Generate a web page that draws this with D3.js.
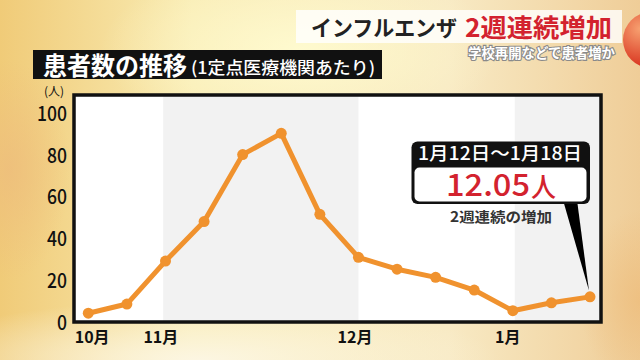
<!DOCTYPE html>
<html><head><meta charset="utf-8">
<script src="https://cdn.jsdelivr.net/npm/d3@7"></script>
<style>
html,body{margin:0;padding:0;overflow:hidden;background:#f7e9b8}
svg{display:block}
text{font-family:"Noto Sans CJK JP","Noto Sans",sans-serif}
</style></head><body>
<svg id="c" width="640" height="360"></svg>
<script>
// ---- data ----
const values = [4.2, 8.6, 29.2, 48.1, 80.2, 90.4, 51.6, 31.0, 25.3, 21.4, 15.3, 5.4, 9.2, 12.05];
const monthLabels = ["10月","11月","12月","1月"];
const monthLabelPos = [0.1, 1.88, 6.91, 10.87];
const monthBounds = [-0.37, 1.94, 7.0, 11.05, 13.3];
const yTicks = [0,20,40,60,80,100];
const titleBlack = "インフルエンザ";
const titleRed = "2週連続増加";
const subtitle = "学校再開などで患者増か";
const chartTitle = "患者数の推移";
const chartTitleSub = "(1定点医療機関あたり)";
const unitLabel = "(人)";
const calloutPeriod = "1月12日～1月18日";
const calloutNumber = "12.05";
const calloutUnit = "人";
const calloutNote = "2週連続の増加";

const svg = d3.select("#c");
const defs = svg.append("defs");

// background
const lg = defs.append("linearGradient").attr("id","bg").attr("x1",0).attr("y1",0).attr("x2",1).attr("y2",0);
lg.append("stop").attr("offset",0).attr("stop-color","#f0cb78");
lg.append("stop").attr("offset",0.3).attr("stop-color","#f9ecb4");
lg.append("stop").attr("offset",0.7).attr("stop-color","#f8eac4");
lg.append("stop").attr("offset",1).attr("stop-color","#efcd98");
svg.append("rect").attr("width",640).attr("height",360).attr("fill","url(#bg)");
const rg = defs.append("radialGradient").attr("id","glow").attr("cx",0.5).attr("cy",0.5).attr("r",0.5);
rg.append("stop").attr("offset",0).attr("stop-color","#fffbd0").attr("stop-opacity",0.95);
rg.append("stop").attr("offset",1).attr("stop-color","#fffbd0").attr("stop-opacity",0);
svg.append("ellipse").attr("cx",300).attr("cy",50).attr("rx",200).attr("ry",90).attr("fill","url(#glow)");
const rg2 = defs.append("radialGradient").attr("id","glow2").attr("cx",0.5).attr("cy",0.5).attr("r",0.5);
rg2.append("stop").attr("offset",0).attr("stop-color","#fcf6e2").attr("stop-opacity",1);
rg2.append("stop").attr("offset",1).attr("stop-color","#fcf6e2").attr("stop-opacity",0);
svg.append("ellipse").attr("cx",200).attr("cy",360).attr("rx",300).attr("ry",60).attr("fill","url(#glow2)");
const rg3 = defs.append("radialGradient").attr("id","glow3").attr("cx",0.5).attr("cy",0.5).attr("r",0.5);
rg3.append("stop").attr("offset",0).attr("stop-color","#eebd7c").attr("stop-opacity",0.8);
rg3.append("stop").attr("offset",1).attr("stop-color","#eebd7c").attr("stop-opacity",0);
svg.append("ellipse").attr("cx",10).attr("cy",170).attr("rx",60).attr("ry",110).attr("fill","url(#glow3)");
svg.append("ellipse").attr("cx",640).attr("cy",300).attr("rx",60).attr("ry",90).attr("fill","url(#glow3)");

// red ball top right
const ball = defs.append("radialGradient").attr("id","ball").attr("cx",0.3).attr("cy",0.3).attr("r",0.7);
ball.append("stop").attr("offset",0).attr("stop-color","#f7a070");
ball.append("stop").attr("offset",1).attr("stop-color","#d8321e");
svg.append("circle").attr("cx",651).attr("cy",40).attr("r",28).attr("fill","url(#ball)");

// title box
svg.append("rect").attr("x",296).attr("y",10).attr("width",326).attr("height",33).attr("fill","#ffffff").attr("opacity",0.8);
svg.append("text").attr("x",311).attr("y",36).attr("font-size",22).attr("font-weight",700).attr("fill","#222")
  .attr("textLength",146).attr("lengthAdjust","spacingAndGlyphs").text(titleBlack);
svg.append("text").attr("x",465).attr("y",37).attr("font-size",25).attr("font-weight",700).attr("fill","#d3222e")
  .attr("textLength",147).attr("lengthAdjust","spacingAndGlyphs").text(titleRed);
svg.append("text").attr("x",468).attr("y",58).attr("font-size",13.5).attr("font-weight",700).attr("fill","#fff")
  .attr("stroke","#8a8a8a").attr("stroke-width",2.2).attr("paint-order","stroke")
  .attr("textLength",147).attr("lengthAdjust","spacingAndGlyphs").text(subtitle);

// chart title
svg.append("rect").attr("x",33).attr("y",50).attr("width",349).attr("height",29).attr("fill","#111");
svg.append("text").attr("x",43).attr("y",74.5).attr("font-size",25).attr("font-weight",700).attr("fill","#fff")
  .attr("textLength",144).attr("lengthAdjust","spacingAndGlyphs").text(chartTitle);
svg.append("text").attr("x",191).attr("y",74).attr("font-size",17).attr("font-weight",500).attr("fill","#fff")
  .attr("textLength",184).attr("lengthAdjust","spacingAndGlyphs").text(chartTitleSub);

// scales
const frame = {x0:74, x1:601, y0:95, y1:322};
const x = d3.scaleLinear().domain([0, values.length-1]).range([88.3, 590]);
const y = d3.scaleLinear().domain([0, 100]).range([322, 113.3]);

// plot background & bands
svg.append("rect").attr("x",frame.x0).attr("y",frame.y0).attr("width",frame.x1-frame.x0).attr("height",frame.y1-frame.y0).attr("fill","#ffffff");
const bands = d3.range(monthBounds.length-1).filter(i => i % 2 === 1);
svg.append("g").selectAll("rect").data(bands).join("rect")
  .attr("x", i => x(monthBounds[i]))
  .attr("width", i => Math.min(x(monthBounds[i+1]), frame.x1) - x(monthBounds[i]))
  .attr("y", frame.y0).attr("height", frame.y1-frame.y0).attr("fill","#f2f2f2");

// line
const line = d3.line().x((d,i)=>x(i)).y(d=>y(d));
svg.append("path").datum(values).attr("d",line).attr("fill","none").attr("stroke","#f0922e")
  .attr("stroke-width",5).attr("stroke-linejoin","round");
svg.append("g").selectAll("circle").data(values).join("circle")
  .attr("cx",(d,i)=>x(i)).attr("cy",d=>y(d)).attr("r",5.5).attr("fill","#f0922e");

// frame
svg.append("rect").attr("x",frame.x0).attr("y",frame.y0).attr("width",frame.x1-frame.x0).attr("height",frame.y1-frame.y0)
  .attr("fill","none").attr("stroke","#111").attr("stroke-width",3.5);

// y axis labels
const yAxis = d3.axisLeft(y).tickValues(yTicks).tickSize(0).tickPadding(0);
const ga = svg.append("g").attr("transform","translate(67,0)").call(yAxis);
ga.select(".domain").remove();
ga.selectAll("text").attr("font-size",20).attr("fill","#111").attr("font-family","Roboto,sans-serif")
  .attr("font-weight",500).attr("dy","0.36em").attr("textLength", d => String(d).length * 10).attr("lengthAdjust","spacingAndGlyphs");
svg.append("text").attr("x",54).attr("y",96).attr("text-anchor","middle").attr("font-size",12).attr("fill","#111").text(unitLabel);

// x month labels
svg.append("g").selectAll("text").data(monthLabels).join("text")
  .attr("x",(d,i)=>x(monthLabelPos[i])).attr("y",343).attr("text-anchor","middle")
  .attr("font-size",16).attr("font-weight",700).attr("fill","#111").text(d=>d);

// callout
const last = values.length-1;
svg.append("path").attr("d", d3.line()([[563,200],[577,200],[x(last)-1, y(values[last])-6]])).attr("fill","#000");
svg.append("rect").attr("x",411.5).attr("y",141.5).attr("width",178.5).attr("height",62.5).attr("rx",6).attr("fill","#111");
svg.append("rect").attr("x",414.5).attr("y",167.5).attr("width",172).attr("height",34).attr("rx",5).attr("fill","#fff");
svg.append("text").attr("x",418).attr("y",159.5).attr("font-size",18).attr("font-weight",500).attr("fill","#fff")
  .attr("textLength",164).attr("lengthAdjust","spacingAndGlyphs").text(calloutPeriod);
svg.append("text").attr("x",446).attr("y",196).attr("font-size",31).attr("font-weight",500).attr("fill","#d3222e")
  .attr("font-family","Roboto,sans-serif")
  .attr("textLength",84).attr("lengthAdjust","spacingAndGlyphs").text(calloutNumber);
svg.append("text").attr("x",531).attr("y",197).attr("font-size",27).attr("font-weight",500).attr("fill","#d3222e")
  .attr("textLength",25).attr("lengthAdjust","spacingAndGlyphs").text(calloutUnit);
svg.append("text").attr("x",450).attr("y",221.5).attr("font-size",14).attr("font-weight",700).attr("fill","#333")
  .attr("textLength",102).attr("lengthAdjust","spacingAndGlyphs").text(calloutNote);
</script></body></html>
